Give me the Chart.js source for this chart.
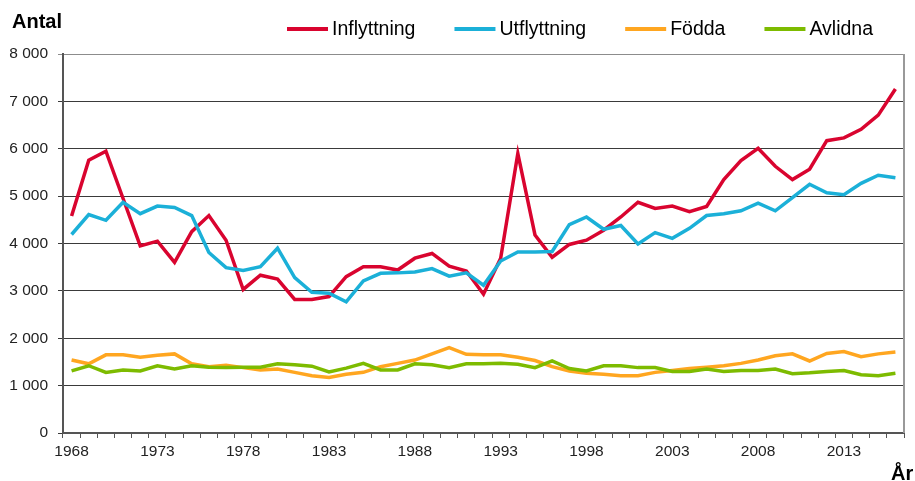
<!DOCTYPE html>
<html>
<head>
<meta charset="utf-8">
<script src="https://cdn.jsdelivr.net/npm/chart.js@4.4.0/dist/chart.umd.min.js"></script>
<style>
    html, body { margin: 0; padding: 0; background: #fff; }
    canvas { display: block; }
</style>
</head>
<body>
<canvas id="Befolkning" width="915" height="481"></canvas>
<script>
var ar = ['1968', '1969', '1970', '1971', '1972', '1973', '1974', '1975', '1976', '1977',
    '1978', '1979', '1980', '1981', '1982', '1983', '1984', '1985', '1986', '1987',
    '1988', '1989', '1990', '1991', '1992', '1993', '1994', '1995', '1996', '1997',
    '1998', '1999', '2000', '2001', '2002', '2003', '2004', '2005', '2006', '2007',
    '2008', '2009', '2010', '2011', '2012', '2013', '2014', '2015', '2016'];

var inflyttning = [4580, 5760, 5950, 4950, 3950, 4050, 3600, 4250, 4590, 4070,
    3030, 3330, 3250, 2820, 2820, 2880, 3300, 3510, 3510, 3440,
    3690, 3790, 3520, 3420, 2930, 3690, 5900, 4180, 3710, 3980,
    4070, 4280, 4560, 4870, 4740, 4790, 4670, 4780, 5350, 5750,
    6010, 5630, 5350, 5570, 6170, 6230, 6410, 6710, 7260];

var utflyttning = [4190, 4610, 4490, 4870, 4630, 4790, 4760, 4590, 3810, 3490,
    3430, 3510, 3900, 3280, 2970, 2950, 2770, 3210, 3370, 3380,
    3400, 3470, 3310, 3380, 3120, 3630, 3820, 3820, 3830, 4400,
    4560, 4300, 4380, 3990, 4230, 4110, 4320, 4590, 4630, 4690,
    4850, 4690, 4970, 5250, 5070, 5030, 5270, 5440, 5390];

var fodda = [1540, 1460, 1650, 1650, 1600, 1640, 1670, 1460, 1400, 1430,
    1380, 1330, 1350, 1280, 1210, 1170, 1240, 1280, 1400, 1470,
    1540, 1670, 1800, 1660, 1650, 1650, 1600, 1530, 1400, 1310,
    1260, 1240, 1210, 1210, 1280, 1320, 1360, 1390, 1420, 1470,
    1540, 1630, 1670, 1520, 1680, 1720, 1610, 1670, 1710];

var avlidna = [1310, 1420, 1280, 1330, 1310, 1420, 1350, 1420, 1390, 1380,
    1390, 1390, 1460, 1440, 1410, 1290, 1370, 1470, 1330, 1330,
    1460, 1440, 1380, 1460, 1460, 1470, 1450, 1380, 1520, 1360,
    1310, 1420, 1420, 1380, 1380, 1300, 1300, 1350, 1300, 1320,
    1320, 1350, 1250, 1270, 1300, 1320, 1230, 1210, 1260];

var serieNamn = ['Inflyttning', 'Utflyttning', 'Födda', 'Avlidna'];
var serieFarg = ['#D9042F', '#1BB0D8', '#FFA620', '#7DBB00'];

var typsnitt = "'Liberation Sans', Arial, sans-serif";

function Tusental(value) {
    return String(value).replace(/\B(?=(\d{3})+(?!\d))/g, ' ');
}

// rubriker, egen legend och ram till höger
var ramPlugin = {
    id: 'ram',
    beforeDatasetsDraw: function (chart) {
        var ctx = chart.ctx;
        var area = chart.chartArea;
        ctx.save();
        ctx.strokeStyle = '#999999';
        ctx.lineWidth = 2;
        ctx.beginPath();
        ctx.moveTo(area.right, area.top);
        ctx.lineTo(area.right, area.bottom);
        ctx.stroke();
        ctx.restore();
    },
    afterDraw: function (chart) {
        var ctx = chart.ctx;
        ctx.save();
        ctx.fillStyle = '#000';
        ctx.font = "bold 20px " + typsnitt;
        ctx.textAlign = 'left';
        ctx.textBaseline = 'middle';
        ctx.fillText('Antal', 12, 22);
        ctx.textBaseline = 'alphabetic';
        ctx.fillText('År', 891, 480);

        ctx.font = "19.5px " + typsnitt;
        ctx.textBaseline = 'middle';
        var x = 287;
        chart.data.datasets.forEach(function (ds) {
            ctx.strokeStyle = ds.borderColor;
            ctx.lineWidth = 4;
            ctx.beginPath();
            ctx.moveTo(x, 29);
            ctx.lineTo(x + 41, 29);
            ctx.stroke();
            ctx.fillStyle = '#000';
            ctx.fillText(ds.label, x + 45, 30);
            x += 45 + ctx.measureText(ds.label).width + 39;
        });
        ctx.restore();
    }
};

var serier = [inflyttning, utflyttning, fodda, avlidna];
var datasets = [];
for (i = 0; i < serier.length; ++i) {
    datasets.push({
        label: serieNamn[i],
        data: serier[i],
        borderColor: serieFarg[i],
        backgroundColor: serieFarg[i],
        borderWidth: 3.5,
        pointRadius: 0,
        tension: 0,
        fill: false,
        order: serier.length - i
    });
}

const config = {
    type: 'line',
    data: {
        labels: ar,
        datasets: datasets
    },
    options: {
        responsive: false,
        animation: false,
        layout: {
            padding: { left: 0, top: 54, right: 11, bottom: 0 }
        },
        plugins: {
            legend: { display: false },
            title: { display: false },
            tooltip: { enabled: false }
        },
        scales: {
            x: {
                type: 'category',
                offset: true,
                afterFit: function (scale) { scale.height = 48; },
                grid: {
                    offset: true,
                    drawOnChartArea: false,
                    drawTicks: true,
                    tickLength: 5,
                    color: '#555555'
                },
                border: { display: true, color: '#555555', width: 2 },
                ticks: {
                    autoSkip: false,
                    maxRotation: 0,
                    minRotation: 0,
                    padding: 4,
                    color: '#222',
                    font: { family: typsnitt, size: 15.5 },
                    callback: function (value, index) {
                        return index % 5 === 0 ? ar[index] : '';
                    }
                }
            },
            y: {
                min: 0,
                max: 8000,
                afterFit: function (scale) { scale.width = 63; },
                grid: {
                    drawTicks: true,
                    tickLength: 5,
                    color: function (c) {
                        return c.tick && c.tick.value === 8000 ? '#8c8c8c' : '#3a3a3a';
                    }
                },
                border: { display: true, color: '#555555', width: 2 },
                ticks: {
                    stepSize: 1000,
                    padding: 10,
                    color: '#222',
                    font: { family: typsnitt, size: 15.5 },
                    callback: function (value) {
                        return Tusental(value);
                    }
                }
            }
        }
    },
    plugins: [ramPlugin]
};

var myChart = new Chart(document.getElementById("Befolkning"), config);
</script>
</body>
</html>
